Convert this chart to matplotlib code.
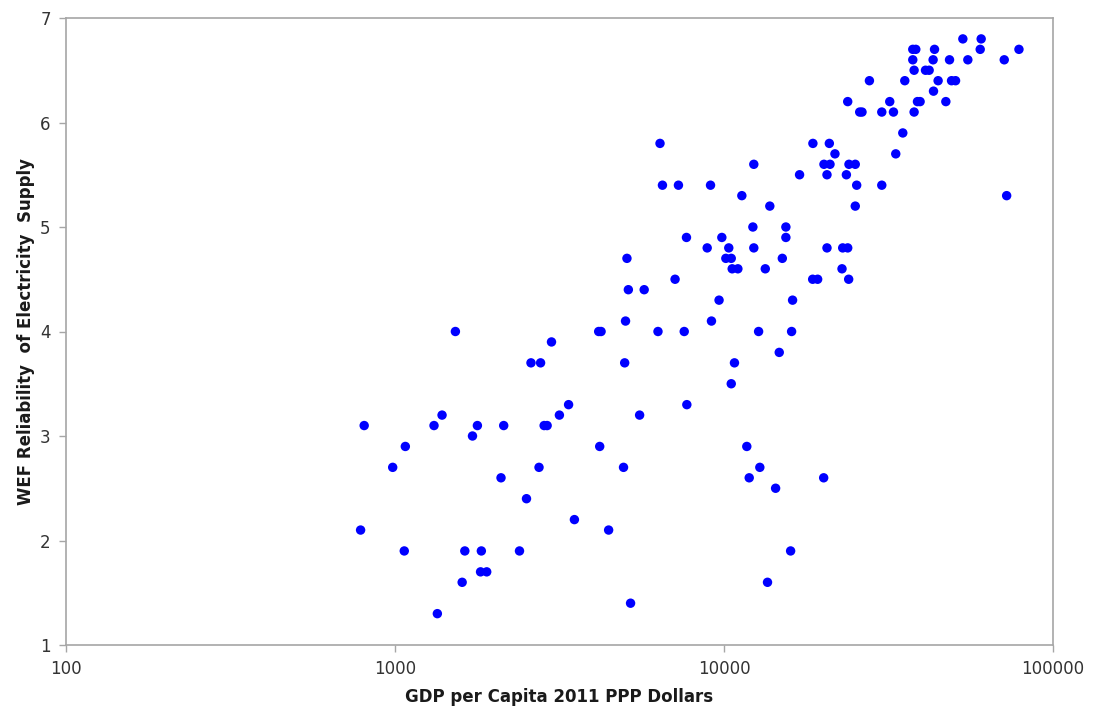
import matplotlib
matplotlib.use("Agg")
import matplotlib.pyplot as plt
from matplotlib.ticker import FixedLocator, FixedFormatter, NullLocator

gdp = [1526, 5020, 4160, 4230, 6300, 7570, 9160, 9660, 2990, 2590,
       2770, 4990, 3370, 7710, 1390, 3160, 5540, 806, 1314, 1780,
       2140, 2840, 2900, 1720, 1075, 4190, 984, 2740, 4950, 2100,
       2510, 3510, 786, 4460, 1067, 1630, 1830, 2390, 1820, 1900,
       1600, 5200, 1345, 6390, 18630, 20900, 21740, 12320, 20130, 21000,
       23980, 25060, 16970, 20560, 23550, 6500, 7270, 9100, 25310, 30170,
       11330, 13780, 25060, 12240, 15420, 7690, 9850, 15420, 8890, 10340,
       12320, 20560, 22950, 23770, 5070, 10130, 10520, 15040, 10590, 11020,
       13350, 22840, 7100, 18600, 19260, 23930, 5120, 5720, 16160, 12740,
       16050, 14720, 10760, 10520, 11730, 12850, 11930, 20090, 14350, 15940,
       13560, 53210, 60490, 37480, 38280, 43640, 60080, 78800, 37480, 43210,
       48470, 55100, 71090, 37830, 40970, 42030, 27670, 35440, 44750, 49160,
       50560, 43330, 23770, 31900, 38730, 39450, 47240, 25850, 26270, 30170,
       32740, 37830, 34950, 33270, 72300]

reliability = [4.0, 4.1, 4.0, 4.0, 4.0, 4.0, 4.1, 4.3, 3.9, 3.7,
               3.7, 3.7, 3.3, 3.3, 3.2, 3.2, 3.2, 3.1, 3.1, 3.1,
               3.1, 3.1, 3.1, 3.0, 2.9, 2.9, 2.7, 2.7, 2.7, 2.6,
               2.4, 2.2, 2.1, 2.1, 1.9, 1.9, 1.9, 1.9, 1.7, 1.7,
               1.6, 1.4, 1.3, 5.8, 5.8, 5.8, 5.7, 5.6, 5.6, 5.6,
               5.6, 5.6, 5.5, 5.5, 5.5, 5.4, 5.4, 5.4, 5.4, 5.4,
               5.3, 5.2, 5.2, 5.0, 5.0, 4.9, 4.9, 4.9, 4.8, 4.8,
               4.8, 4.8, 4.8, 4.8, 4.7, 4.7, 4.7, 4.7, 4.6, 4.6,
               4.6, 4.6, 4.5, 4.5, 4.5, 4.5, 4.4, 4.4, 4.3, 4.0,
               4.0, 3.8, 3.7, 3.5, 2.9, 2.7, 2.6, 2.6, 2.5, 1.9,
               1.6, 6.8, 6.8, 6.7, 6.7, 6.7, 6.7, 6.7, 6.6, 6.6,
               6.6, 6.6, 6.6, 6.5, 6.5, 6.5, 6.4, 6.4, 6.4, 6.4,
               6.4, 6.3, 6.2, 6.2, 6.2, 6.2, 6.2, 6.1, 6.1, 6.1,
               6.1, 6.1, 5.9, 5.7, 5.3]

x_ticks = [100, 1000, 10000, 100000]
x_tick_labels = ["100", "1000", "10000", "100000"]
y_ticks = [1, 2, 3, 4, 5, 6, 7]

plt.rcParams['font.family'] = ['DejaVu Sans']

fig = plt.figure(figsize=(10.93, 7.13), dpi=100)
ax = fig.add_axes([66/1093, 1 - 645/713, (1053 - 66)/1093, (645 - 18)/713])

ax.scatter(gdp, reliability, s=46, color='#0000FF', edgecolors='none', zorder=3)

ax.set_xscale('log')
ax.set_xlim(100, 100000)
ax.set_ylim(1, 7)
ax.xaxis.set_major_locator(FixedLocator(x_ticks))
ax.xaxis.set_major_formatter(FixedFormatter(x_tick_labels))
ax.xaxis.set_minor_locator(NullLocator())
ax.yaxis.set_major_locator(FixedLocator(y_ticks))

spine_color = '#A6A6A6'
for s in ax.spines.values():
    s.set_color(spine_color)
    s.set_linewidth(1.2)

ax.tick_params(axis='both', which='major', direction='out', length=5,
               color=spine_color, labelsize=12, labelcolor='#333333', width=1)
ax.tick_params(axis='x', pad=6)
ax.tick_params(axis='y', pad=6)

ax.set_xlabel('GDP per Capita 2011 PPP Dollars', fontsize=12, fontweight='bold',
              color='#1a1a1a', labelpad=7)
ax.set_ylabel('WEF Reliability  of Electricity  Supply', fontsize=12, fontweight='bold',
              color='#1a1a1a', labelpad=4)

fig.savefig('out.png', dpi=100)
